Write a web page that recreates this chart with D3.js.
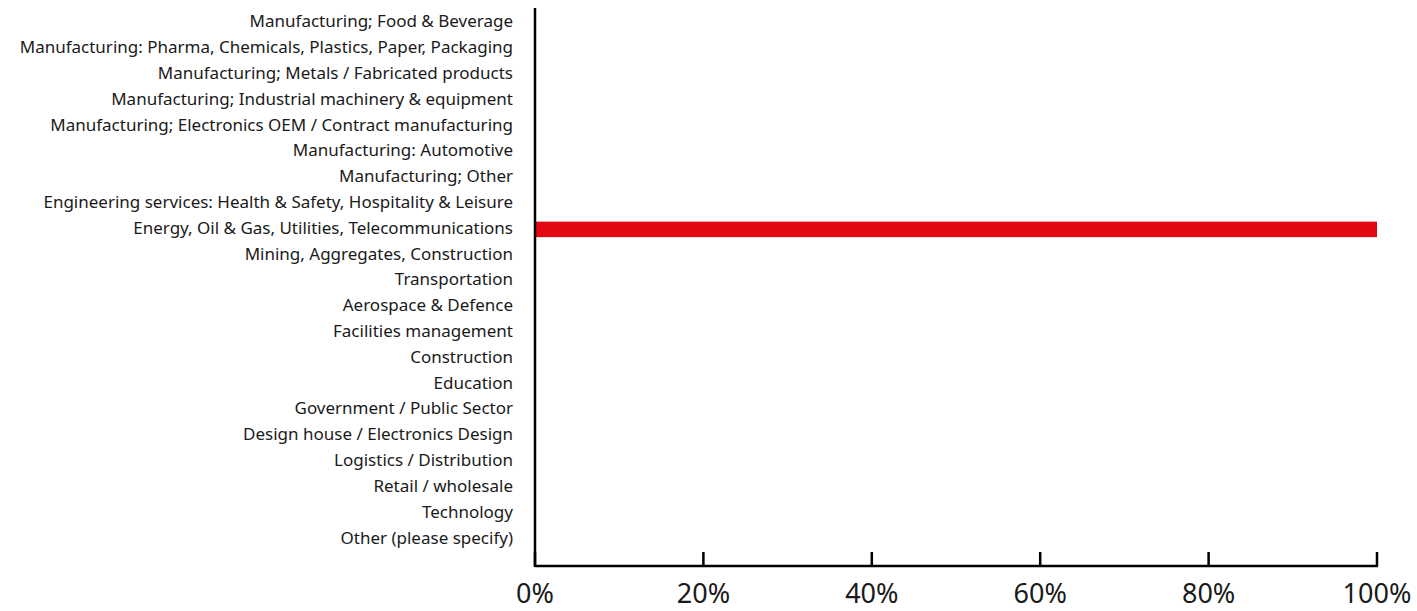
<!DOCTYPE html>
<html>
<head>
<meta charset="utf-8">
<script src="https://cdn.jsdelivr.net/npm/d3@7"></script>
<style>
    body { margin: 0; background: #fff; }
    svg { display: block; font-family: "Noto Sans", "Open Sans", sans-serif; }
</style>
</head>
<body>
<div id="chart"></div>
<script>
const categories = [
    'Manufacturing; Food & Beverage',
    'Manufacturing: Pharma, Chemicals, Plastics, Paper, Packaging',
    'Manufacturing; Metals / Fabricated products',
    'Manufacturing; Industrial machinery & equipment',
    'Manufacturing; Electronics OEM / Contract manufacturing',
    'Manufacturing: Automotive',
    'Manufacturing; Other',
    'Engineering services: Health & Safety, Hospitality & Leisure',
    'Energy, Oil & Gas, Utilities, Telecommunications',
    'Mining, Aggregates, Construction',
    'Transportation',
    'Aerospace & Defence',
    'Facilities management',
    'Construction',
    'Education',
    'Government / Public Sector',
    'Design house / Electronics Design',
    'Logistics / Distribution',
    'Retail / wholesale',
    'Technology',
    'Other (please specify)'
];
const values = [0, 0, 0, 0, 0, 0, 0, 0, 1, 0, 0, 0, 0, 0, 0, 0, 0, 0, 0, 0, 0];
const tickValues = [0, 0.2, 0.4, 0.6, 0.8, 1];

const chartWidth = 1417, chartHeight = 611;
const plotLeft = 535, plotRight = 1377, plotTop = 8, plotBottom = 566;

const svg = d3.select('#chart').append('svg')
    .attr('width', chartWidth)
    .attr('height', chartHeight);

const x = d3.scaleLinear().domain([0, 1]).range([plotLeft, plotRight]);
const y = d3.scaleBand().domain(categories).range([10, 552])
    .paddingInner(0.4).paddingOuter(0.2);

// bars
svg.append('g')
    .selectAll('rect')
    .data(categories.map((c, i) => ({ c, v: values[i] })))
    .join('rect')
    .attr('x', x(0))
    .attr('y', d => y(d.c))
    .attr('width', d => x(d.v) - x(0))
    .attr('height', y.bandwidth())
    .attr('fill', '#e30613');

// category labels
svg.append('g')
    .selectAll('text')
    .data(categories)
    .join('text')
    .attr('x', 513)
    .attr('y', d => y(d) + y.bandwidth() / 2 - 1.5)
    .attr('dy', '0.35em')
    .attr('text-anchor', 'end')
    .style('font-size', '17px')
    .style('fill', '#1a1a1a')
    .text(d => d);

// axis lines
svg.append('line')
    .attr('x1', plotLeft).attr('x2', plotLeft)
    .attr('y1', plotTop).attr('y2', plotBottom + 1)
    .attr('stroke', '#000').attr('stroke-width', 2.5);

svg.append('line')
    .attr('x1', plotLeft).attr('x2', plotRight + 1)
    .attr('y1', plotBottom).attr('y2', plotBottom)
    .attr('stroke', '#000').attr('stroke-width', 2.5);

const ticks = svg.append('g')
    .selectAll('g')
    .data(tickValues)
    .join('g')
    .attr('transform', d => `translate(${x(d)},0)`);

ticks.append('line')
    .attr('y1', plotBottom - 14)
    .attr('y2', plotBottom)
    .attr('stroke', '#000')
    .attr('stroke-width', 2.5);

ticks.append('text')
    .attr('y', 603)
    .attr('text-anchor', 'middle')
    .style('font-size', '27px')
    .style('fill', '#1a1a1a')
    .text(d => d3.format('.0%')(d));
</script>
</body>
</html>
